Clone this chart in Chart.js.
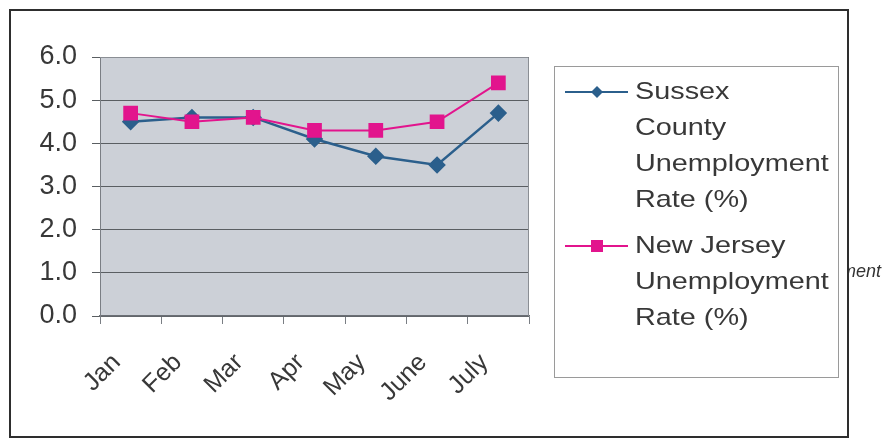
<!DOCTYPE html>
<html>
<head>
<meta charset="utf-8">
<script src="https://cdn.jsdelivr.net/npm/chart.js@4/dist/chart.umd.min.js"></script>
<style>
  html, body { margin: 0; padding: 0; background: #fff; }
  canvas { display: block; }
</style>
</head>
<body>
<canvas id="chart" width="883" height="439"></canvas>
<script>
// ========== DATA ==========
const months = ['Jan', 'Feb', 'Mar', 'Apr', 'May', 'June', 'July'];
const sussexRates = [4.5, 4.6, 4.6, 4.1, 3.7, 3.5, 4.7];
const njRates = [4.7, 4.5, 4.6, 4.3, 4.3, 4.5, 5.4];
const yTicks = [0, 1, 2, 3, 4, 5, 6];

// legend text, already broken into lines
const sussexLines = ['Sussex', 'County', 'Unemployment', 'Rate (%)'];
const njLines = ['New Jersey', 'Unemployment', 'Rate (%)'];

const COLORS = {
    sussex: '#2b5f8c',
    nj: '#e2148d',
    plotBg: '#ccd0d7',
    grid: '#5a5e62',
    text: '#383838'
};
const FONT = "'Liberation Sans', Arial, sans-serif";

// ========== PLUGINS ==========
const frame = {
    id: 'frame',
    beforeDraw(chart) {
        const { ctx, chartArea: a } = chart;
        ctx.save();
        ctx.fillStyle = '#fff';
        ctx.fillRect(0, 0, chart.width, chart.height);
        ctx.fillStyle = COLORS.plotBg;
        ctx.fillRect(a.left, a.top, a.right - a.left, a.bottom - a.top);
        ctx.restore();
    },
    beforeDatasetsDraw(chart) {
        const { ctx, chartArea: a } = chart;
        ctx.save();
        ctx.strokeStyle = '#8a8e94';
        ctx.lineWidth = 1;
        ctx.beginPath();
        ctx.moveTo(a.left, a.top + 0.5);
        ctx.lineTo(a.right - 0.5, a.top + 0.5);
        ctx.lineTo(a.right - 0.5, a.bottom);
        ctx.stroke();
        ctx.restore();
    },
    afterDraw(chart) {
        const ctx = chart.ctx;
        ctx.save();

        // stray caption fragment peeking out at the right edge
        ctx.save();
        ctx.beginPath();
        ctx.rect(848, 0, 40, chart.height);
        ctx.clip();
        ctx.font = 'italic 18px ' + FONT;
        ctx.fillStyle = '#333';
        ctx.textAlign = 'right';
        ctx.textBaseline = 'middle';
        ctx.fillText('ment', 881, 272);
        ctx.restore();

        // outer border
        ctx.strokeStyle = '#2e2e2e';
        ctx.lineWidth = 2;
        ctx.strokeRect(10, 10, 838, 427);

        // legend box
        ctx.fillStyle = '#fff';
        ctx.fillRect(554, 66, 285, 312);
        ctx.strokeStyle = '#9a9a9a';
        ctx.lineWidth = 1;
        ctx.strokeRect(554.5, 66.5, 284, 311);

        const entries = [
            { lines: sussexLines, color: COLORS.sussex, style: 'diamond', y: 92 },
            { lines: njLines, color: COLORS.nj, style: 'square', y: 246 }
        ];
        entries.forEach(e => {
            ctx.strokeStyle = e.color;
            ctx.fillStyle = e.color;
            ctx.lineWidth = 2;
            ctx.beginPath();
            ctx.moveTo(565, e.y);
            ctx.lineTo(628, e.y);
            ctx.stroke();
            ctx.beginPath();
            if (e.style === 'diamond') {
                ctx.moveTo(597, e.y - 6);
                ctx.lineTo(603, e.y);
                ctx.lineTo(597, e.y + 6);
                ctx.lineTo(591, e.y);
                ctx.closePath();
            } else {
                ctx.rect(591, e.y - 6, 12, 12);
            }
            ctx.fill();

            ctx.fillStyle = COLORS.text;
            ctx.font = '24px ' + FONT;
            ctx.textAlign = 'left';
            ctx.textBaseline = 'middle';
            e.lines.forEach((line, i) => {
                ctx.save();
                ctx.translate(635, e.y + i * 36);
                ctx.scale(1.2, 1);
                ctx.fillText(line, 0, 0);
                ctx.restore();
            });
        });
        ctx.restore();
    }
};

// ========== CHART ==========
new Chart(document.getElementById('chart'), {
    type: 'line',
    data: {
        labels: months,
        datasets: [
            {
                label: sussexLines.join(' '),
                data: sussexRates,
                borderColor: COLORS.sussex,
                backgroundColor: COLORS.sussex,
                borderWidth: 2.5,
                pointStyle: 'rectRot',
                pointRadius: 7,
                pointHoverRadius: 7,
                tension: 0,
                order: 1
            },
            {
                label: njLines.join(' '),
                data: njRates,
                borderColor: COLORS.nj,
                backgroundColor: COLORS.nj,
                borderWidth: 2,
                pointStyle: 'rect',
                pointRadius: 9,
                pointHoverRadius: 9,
                tension: 0,
                order: 0
            }
        ]
    },
    options: {
        responsive: false,
        animation: false,
        layout: { padding: { left: 0, top: 57, right: 354, bottom: 0 } },
        plugins: { legend: { display: false }, tooltip: { enabled: false } },
        scales: {
            x: {
                offset: true,
                grid: { offset: true, drawOnChartArea: false, color: '#7a7e84', tickLength: 8 },
                border: { color: '#6a6e74', width: 1.5 },
                ticks: {
                    autoSkip: false,
                    minRotation: 45,
                    maxRotation: 45,
                    labelOffset: -14,
                    padding: 24,
                    color: COLORS.text,
                    font: { family: FONT, size: 25 }
                },
                afterFit: s => { s.height = 123; }
            },
            y: {
                min: yTicks[0],
                max: yTicks[yTicks.length - 1],
                afterBuildTicks: s => { s.ticks = yTicks.map(v => ({ value: v })); },
                grid: { color: COLORS.grid, lineWidth: 1, tickLength: 8 },
                border: { color: '#7a7e84', width: 1 },
                ticks: {
                    padding: 15,
                    color: COLORS.text,
                    font: { family: FONT, size: 27 },
                    callback: v => Number(v).toFixed(1)
                },
                afterFit: s => { s.width = 100; }
            }
        }
    },
    plugins: [frame]
});
</script>
</body>
</html>
